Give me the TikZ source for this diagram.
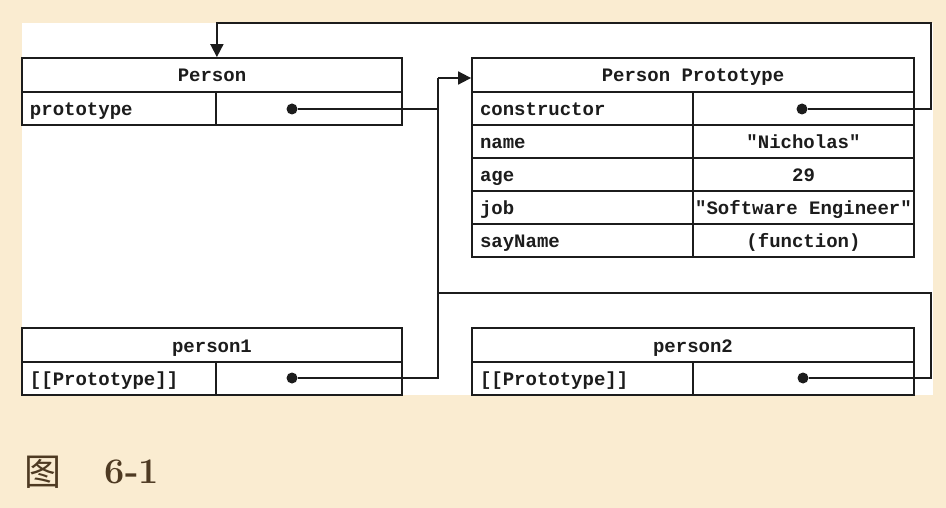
\documentclass[tikz,border=0pt]{standalone}
\usepackage{fontspec}
\setmonofont{Liberation Mono}
\newfontfamily\cjk{Noto Sans CJK SC}
\usetikzlibrary{arrows.meta}
\definecolor{paper}{RGB}{250,236,209}
\definecolor{ink}{RGB}{28,28,28}
\definecolor{captbrown}{RGB}{78,58,34}
\begin{document}
\begin{tikzpicture}[x=1pt,y=-1pt,line width=1.8pt,ink,
	cell/.style={draw,inner sep=0pt,minimum height=33pt,text height=15pt,text depth=1pt,
		font=\ttfamily\bfseries\fontsize{19}{20}\selectfont},
	titlecell/.style={cell,minimum height=34pt,minimum width=#1},
	keycell/.style={cell,minimum width=#1,text width=#1-16pt,align=left},
	valcell/.style={cell,minimum width=#1},
	dot/.style={circle,fill,inner sep=0pt,minimum size=11pt},
	tip/.style={-{Triangle[length=13pt,width=13pt]}}]
	\useasboundingbox (0,0) rectangle (946,508);
	\fill[paper] (0,0) rectangle (946,508);
	\fill[white] (22,23) rectangle (933,395);
	% Person
	\node[titlecell=380pt] (phead) at (212,75) {Person};
	\node[keycell=194pt] (pkey) at (119,108.5) {prototype};
	\node[valcell=186pt] (pval) at (309,108.5) {};
	\node[dot] (pdot) at (292,109) {};
	% Person Prototype
	\node[titlecell=442pt] (ptitle) at (693,75) {Person Prototype};
	\node[keycell=221pt] (ckey) at (582.5,108.5) {constructor};
	\node[valcell=221pt] (cval) at (803.5,108.5) {};
	\node[keycell=221pt] (nkey) at (582.5,141.5) {name};
	\node[valcell=221pt] (nval) at (803.5,141.5) {"Nicholas"};
	\node[keycell=221pt] (akey) at (582.5,174.5) {age};
	\node[valcell=221pt] (aval) at (803.5,174.5) {29};
	\node[keycell=221pt] (jkey) at (582.5,207.5) {job};
	\node[valcell=221pt] (jval) at (803.5,207.5) {"Software Engineer"};
	\node[keycell=221pt] (skey) at (582.5,240.5) {sayName};
	\node[valcell=221pt] (sval) at (803.5,240.5) {(function)};
	\node[dot] (cdot) at (802,109) {};
	% person1 / person2
	\node[titlecell=380pt] (p1head) at (212,345) {person1};
	\node[keycell=194pt] (p1key) at (119,378.5) {[[Prototype]]};
	\node[valcell=186pt] (p1val) at (309,378.5) {};
	\node[dot] (p1dot) at (292,378) {};
	\node[titlecell=442pt] (p2head) at (693,345) {person2};
	\node[keycell=221pt] (p2key) at (582.5,378.5) {[[Prototype]]};
	\node[valcell=221pt] (p2val) at (803.5,378.5) {};
	\node[dot] (p2dot) at (803,378) {};
	% connectors
	\coordinate (jn) at (438,78);
	\coordinate (p2turn) at (931,293);
	\coordinate (ctop) at (931,23);
	\draw (pdot) -| (jn);
	\draw[tip] (jn) -- (jn -| ptitle.west);
	\draw (p1dot) -| (jn);
	\draw (p2dot) -| (p2turn) -- (p2turn -| jn);
	\draw[tip] (cdot) -| (ctop) -| (pkey.east |- phead.north);
	% caption
	\node[captbrown,font=\cjk\fontsize{37}{37}\selectfont] (fig) at (43,472) {图};
	\node[captbrown,font=\bfseries\fontsize{36}{36}\selectfont] (fignum) at (132,472) {6-1};
\end{tikzpicture}
\end{document}
